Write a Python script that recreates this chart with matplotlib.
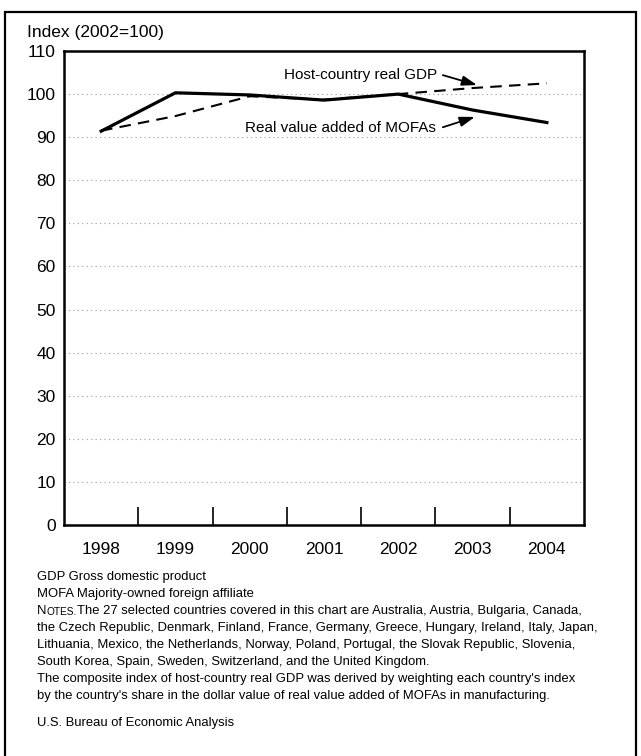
import matplotlib.pyplot as plt
import matplotlib.patches as patches

plt.rcParams['font.family'] = ['Liberation Sans', 'DejaVu Sans']

years = ['1998', '1999', '2000', '2001', '2002', '2003', '2004']
mofa_va = [91.4, 100.3, 99.8, 98.6, 100.0, 96.3, 93.4]
host_gdp = [91.5, 94.9, 99.5, 98.7, 100.0, 101.4, 102.5]
y_ticks = [0, 10, 20, 30, 40, 50, 60, 70, 80, 90, 100, 110]

notes = [
    'GDP Gross domestic product',
    'MOFA Majority-owned foreign affiliate',
    None,
    'the Czech Republic, Denmark, Finland, France, Germany, Greece, Hungary, Ireland, Italy, Japan,',
    'Lithuania, Mexico, the Netherlands, Norway, Poland, Portugal, the Slovak Republic, Slovenia,',
    'South Korea, Spain, Sweden, Switzerland, and the United Kingdom.',
    "The composite index of host-country real GDP was derived by weighting each country's index",
    "by the country's share in the dollar value of real value added of MOFAs in manufacturing.",
]
notes_first = 'The 27 selected countries covered in this chart are Australia, Austria, Bulgaria, Canada,'
source = 'U.S. Bureau of Economic Analysis'

W, H = 641, 756
fig = plt.figure(figsize=(W / 100, H / 100), dpi=100)
ax = fig.add_axes([64 / W, 1 - 525 / H, (584 - 64) / W, (525 - 51) / H])

x = list(range(len(years)))
for yv in y_ticks[1:-1]:
    ax.axhline(yv, color='#9a9a9a', lw=0.8, ls=(0, (1, 3)), zorder=0)

ax.plot(x, host_gdp, color='black', lw=1.5, ls=(0, (5.5, 3.5)), zorder=2)
ax.plot(x, mofa_va, color='black', lw=2.3, solid_joinstyle='miter', zorder=3)

ax.set_xlim(-0.5, 6.5)
ax.set_ylim(0, 110)
ax.set_yticks(y_ticks)
ax.tick_params(axis='y', length=0, pad=6, labelsize=12.5)
ax.set_xticks([i + 0.5 for i in range(6)])
ax.set_xticklabels([])
ax.set_xticks(x, minor=True)
ax.set_xticklabels(years, minor=True)
ax.tick_params(axis='x', which='major', direction='in', length=13, width=1.2)
ax.tick_params(axis='x', which='minor', length=0, pad=12, labelsize=12.5)
for s in ax.spines.values():
    s.set_linewidth(1.8)

arrow = dict(arrowstyle='-|>,head_length=0.9,head_width=0.3', color='black', lw=1.3,
             shrinkA=0, shrinkB=0)
ax.text(4.52, 104.4, 'Host-country real GDP', ha='right', va='center', fontsize=11)
ax.annotate('', xy=(5.06, 102.1), xytext=(4.60, 104.4), arrowprops=arrow)
ax.text(4.50, 92.1, 'Real value added of MOFAs', ha='right', va='center', fontsize=11)
ax.annotate('', xy=(5.03, 94.7), xytext=(4.60, 92.3), arrowprops=arrow)

fig.text(27 / W, 1 - 32 / H, 'Index (2002=100)', ha='left', va='center', fontsize=12.5)

# notes under the chart
line_y = [577, 594, 611, 628, 645, 662, 679, 696]
fs = 9.4
for ly, t in zip(line_y, notes):
    if t is not None:
        fig.text(37 / W, 1 - ly / H, t, ha='left', va='center', fontsize=fs)
n1 = fig.text(37 / W, 1 - 611 / H, 'N', ha='left', va='center', fontsize=fs)
a1 = fig.add_artist(plt.Annotation('OTES.', xy=(1, 0), xycoords=n1, ha='left', va='bottom',
                                   fontsize=7.3))
fig.add_artist(plt.Annotation(notes_first, xy=(1, 0), xycoords=a1, ha='left', va='bottom',
                              fontsize=fs))
fig.text(37 / W, 1 - 723 / H, source, ha='left', va='center', fontsize=fs)

# outer frame of the original page
frame = patches.Rectangle((5 / W, -0.05), (636 - 5) / W, 1.05 - 12 / H,
                          transform=fig.transFigure, fill=False, lw=1.6, color='black')
fig.add_artist(frame)

fig.savefig('out.png', dpi=100)
